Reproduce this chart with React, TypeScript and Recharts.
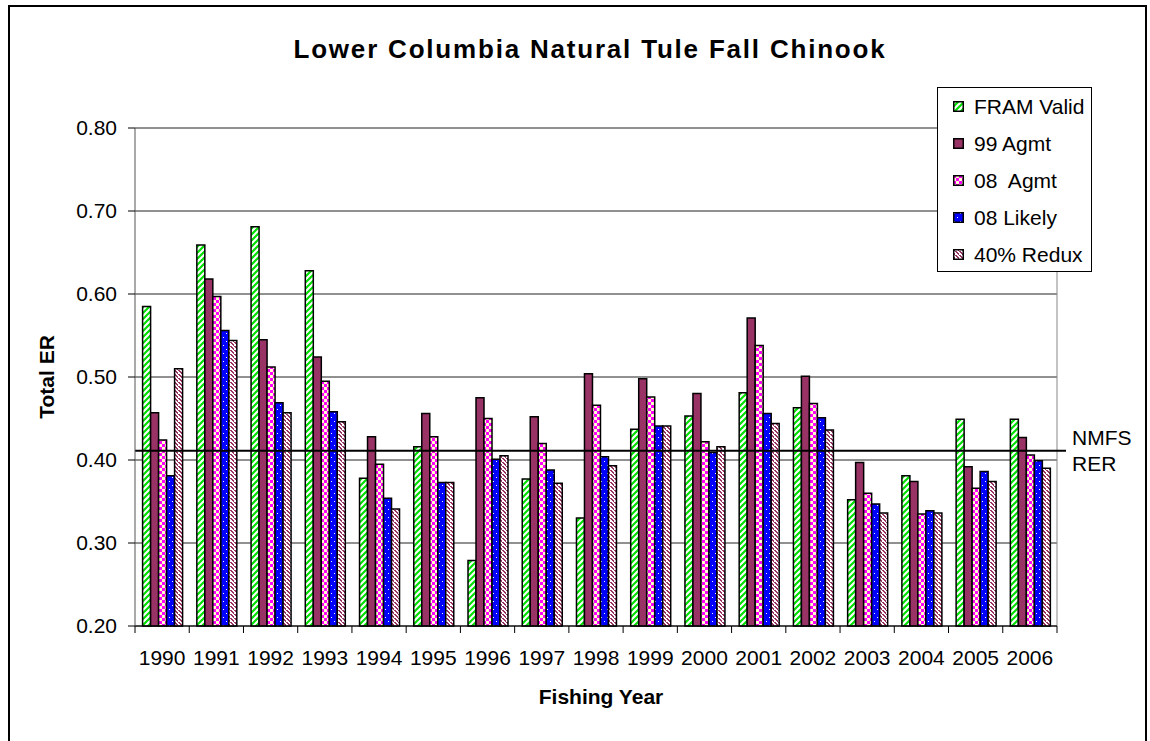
import React from 'react';
import { BarChart, Bar, XAxis, YAxis, CartesianGrid, ReferenceLine, Legend } from 'recharts';

const YEARS = ['1990', '1991', '1992', '1993', '1994', '1995', '1996', '1997', '1998', '1999', '2000', '2001', '2002', '2003', '2004', '2005', '2006'];

const FRAM_VALID = [0.585, 0.659, 0.681, 0.628, 0.378, 0.416, 0.279, 0.377, 0.33, 0.437, 0.453, 0.481, 0.463, 0.352, 0.381, 0.449, 0.449];
const AGMT_99 = [0.457, 0.618, 0.545, 0.524, 0.428, 0.456, 0.475, 0.452, 0.504, 0.498, 0.48, 0.571, 0.501, 0.397, 0.374, 0.392, 0.427];
const AGMT_08 = [0.424, 0.597, 0.512, 0.495, 0.395, 0.428, 0.45, 0.42, 0.466, 0.476, 0.422, 0.538, 0.468, 0.36, 0.335, 0.366, 0.406];
const LIKELY_08 = [0.381, 0.556, 0.469, 0.458, 0.354, 0.373, 0.401, 0.388, 0.404, 0.441, 0.409, 0.456, 0.451, 0.347, 0.339, 0.386, 0.399];
const REDUX_40 = [0.51, 0.544, 0.457, 0.446, 0.341, 0.373, 0.405, 0.372, 0.393, 0.441, 0.416, 0.444, 0.436, 0.336, 0.336, 0.374, 0.39];

const Y_TICKS = [0.2, 0.3, 0.4, 0.5, 0.6, 0.7, 0.8];
const NMFS_RER = 0.411;

const FONT = '"Liberation Sans", Arial, sans-serif';

const SERIES = [
  { key: 'fram', name: 'FRAM Valid', fill: 'url(#patFram)' },
  { key: 'a99', name: '99 Agmt', fill: '#993366' },
  { key: 'a08', name: '08  Agmt', fill: 'url(#patA08)' },
  { key: 'l08', name: '08 Likely', fill: 'url(#patL08)' },
  { key: 'r40', name: '40% Redux', fill: 'url(#patR40)' },
];

const data = YEARS.map((year, i) => ({
  year,
  fram: FRAM_VALID[i],
  a99: AGMT_99[i],
  a08: AGMT_08[i],
  l08: LIKELY_08[i],
  r40: REDUX_40[i],
}));

function YearTick(props: any) {
  const { x, y, payload, index } = props;
  const half = payload.offset ?? 0;
  const last = index === YEARS.length - 1;
  return (
    <g>
      <line x1={x - half} x2={x - half} y1={y - 24} y2={y - 17} stroke="#000" />
      {last && <line x1={x + half} x2={x + half} y1={y - 24} y2={y - 17} stroke="#000" />}
      <text x={x} y={y} dy="0.71em" textAnchor="middle" fontSize={21} fontFamily={FONT} fill="#000">
        {payload.value}
      </text>
    </g>
  );
}

function YTitle(props: any) {
  const { x, y, height } = props.viewBox;
  const cx = x + 46;
  const cy = y + height / 2;
  return (
    <text x={cx} y={cy} transform={`rotate(-90, ${cx}, ${cy})`} textAnchor="middle" dominantBaseline="central"
      fontSize={21} fontWeight="bold" fontFamily={FONT} fill="#000">
      Total ER
    </text>
  );
}

function XTitle(props: any) {
  const { x, y, width } = props.viewBox;
  return (
    <text x={x + width / 2 + 5} y={y + 78} textAnchor="middle" fontSize={21} fontWeight="bold" fontFamily={FONT} fill="#000">
      Fishing Year
    </text>
  );
}

function RerLabel(props: any) {
  const { x, y, width } = props.viewBox;
  const lx = x + width + 15;
  return (
    <text x={lx} y={y} fontSize={21} fontFamily={FONT} fill="#000">
      <tspan x={lx} dy={-6}>NMFS</tspan>
      <tspan x={lx} dy={26}>RER</tspan>
    </text>
  );
}

function LegendBox() {
  return (
    <div style={{ width: 155, height: 185, boxSizing: 'border-box', border: '1px solid #000', background: '#fff', fontFamily: FONT, fontSize: 21 }}>
      {SERIES.map((s) => (
        <div key={s.key} style={{ display: 'flex', alignItems: 'center', height: 37, paddingLeft: 15 }}>
          <svg width={11} height={11} style={{ flex: 'none' }}>
            <rect x={0.75} y={0.75} width={9.5} height={9.5} fill={s.fill} stroke="#000" strokeWidth={1.5} />
          </svg>
          <span style={{ marginLeft: 10, whiteSpace: 'pre', color: '#000' }}>{s.name}</span>
        </div>
      ))}
    </div>
  );
}

export default function App() {
  return (
    <div style={{ position: 'absolute', left: 0, top: 0, width: 1150, height: 741, background: '#fff', fontFamily: FONT, overflow: 'hidden' }}>
      <div style={{ position: 'absolute', left: 8, top: 5, width: 1139, height: 740, boxSizing: 'border-box', border: '2px solid #000', borderBottom: 'none' }} />
      <div style={{ position: 'absolute', left: 0, top: 34, width: 1180, textAlign: 'center', fontSize: 26, fontWeight: 'bold', letterSpacing: 1.8, lineHeight: '30px', color: '#000' }}>
        Lower Columbia Natural Tule Fall Chinook
      </div>
      <div style={{ position: 'absolute', left: 0, top: 0 }}>
        <BarChart width={1150} height={741} data={data} margin={{ top: 128, right: 93, bottom: 85, left: 0 }}
          barCategoryGap="14%" barGap={0}>
          <defs>
            <pattern id="patFram" patternUnits="userSpaceOnUse" width={6} height={6}>
              <rect width={6} height={6} fill="#fff" />
              <path d="M-1,1 L1,-1 M0,6 L6,0 M5,7 L7,5" stroke="#00e000" strokeWidth={2.2} />
            </pattern>
            <pattern id="patA08" patternUnits="userSpaceOnUse" width={6} height={6}>
              <rect width={6} height={6} fill="#ffffcc" />
              <rect x={0} y={0} width={3} height={3} fill="#ff00ff" />
              <rect x={3} y={3} width={3} height={3} fill="#ff00ff" />
            </pattern>
            <pattern id="patL08" patternUnits="userSpaceOnUse" width={6} height={8}>
              <rect width={6} height={8} fill="#0000ff" />
              <rect x={1} y={1} width={1} height={1} fill="#fff" />
              <rect x={4} y={5} width={1} height={1} fill="#fff" />
            </pattern>
            <pattern id="patR40" patternUnits="userSpaceOnUse" width={4} height={4}>
              <rect width={4} height={4} fill="#fff" />
              <rect x={0} y={0} width={2} height={1} fill="#993366" />
              <rect x={1} y={1} width={1} height={1} fill="#993366" />
              <rect x={2} y={2} width={2} height={1} fill="#993366" />
              <rect x={3} y={3} width={1} height={1} fill="#993366" />
              <rect x={0} y={3} width={1} height={1} fill="#993366" />
            </pattern>
          </defs>
          <CartesianGrid vertical={false} stroke="#222" strokeWidth={1} />
          <XAxis dataKey="year" height={30} tickLine={false} tickSize={6} tickMargin={18} interval={0}
            axisLine={{ stroke: '#000' }} tick={<YearTick />} label={<XTitle />} />
          <YAxis width={135} domain={[0.2, 0.8]} ticks={Y_TICKS} interval={0} tickFormatter={(v: number) => v.toFixed(2)}
            tickSize={7} tickMargin={11} axisLine={{ stroke: '#555' }} tickLine={{ stroke: '#000' }}
            tick={{ fontSize: 21, fill: '#000', fontFamily: FONT }} label={<YTitle />} />
          <Legend layout="vertical" align="center" verticalAlign="middle"
            wrapperStyle={{ left: 937, top: 87, width: 155, height: 185 }} content={<LegendBox />} />
          {SERIES.map((s) => (
            <Bar key={s.key} dataKey={s.key} name={s.name} fill={s.fill} stroke="#000" strokeWidth={1.5} isAnimationActive={false} />
          ))}
          <ReferenceLine x="2006" position="end" stroke="#888" strokeWidth={1} />
          <ReferenceLine y={NMFS_RER} stroke="#000" strokeWidth={2}
            shape={(p: any) => <line x1={p.x1} y1={p.y1} x2={p.x2 + 9} y2={p.y2} stroke="#000" strokeWidth={2} />}
            label={<RerLabel />} />
        </BarChart>
      </div>
    </div>
  );
}
